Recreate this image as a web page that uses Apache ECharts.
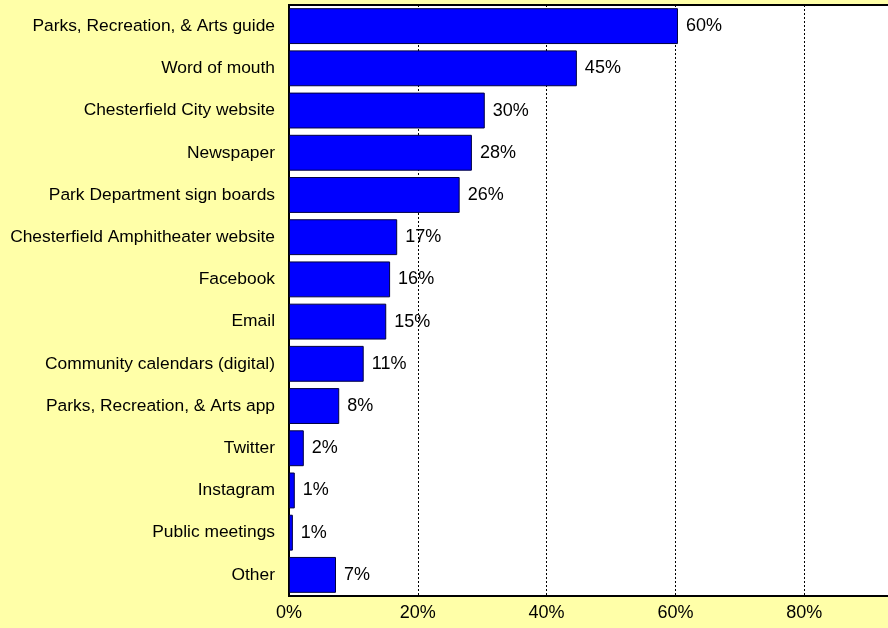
<!DOCTYPE html>
<html>
<head>
<meta charset="utf-8">
<script src="https://cdn.jsdelivr.net/npm/echarts@6/dist/echarts.min.js"></script>
<style>
html, body { margin: 0; padding: 0; background: #FFFFA8; }
#chart { width: 888px; height: 628px; }
</style>
</head>
<body>
<div id="chart"></div>
<script type="text/javascript">
// categories top to bottom, as in the picture
var categories = [
    'Parks, Recreation, & Arts guide',
    'Word of mouth',
    'Chesterfield City website',
    'Newspaper',
    'Park Department sign boards',
    'Chesterfield Amphitheater website',
    'Facebook',
    'Email',
    'Community calendars (digital)',
    'Parks, Recreation, & Arts app',
    'Twitter',
    'Instagram',
    'Public meetings',
    'Other'
];
var values = [60.4, 44.7, 30.4, 28.4, 26.5, 16.8, 15.7, 15.1, 11.6, 7.8, 2.3, 0.9, 0.6, 7.3];
var valueLabels = ['60%', '45%', '30%', '28%', '26%', '17%', '16%', '15%', '11%', '8%', '2%', '1%', '1%', '7%'];
var tickValues = [0, 20, 40, 60, 80];

var font = 'Liberation Sans, Arial, sans-serif';

var option = {
    backgroundColor: '#FFFFA8',
    animation: false,
    grid: {
        left: 289,
        width: 644,
        top: 5,
        bottom: 32,
        outerBoundsMode: 'none',
        show: true,
        backgroundColor: '#ffffff',
        borderColor: '#000000',
        borderWidth: 2
    },
    xAxis: {
        type: 'value',
        min: 0,
        max: 100,
        interval: 20,
        axisLine: { show: true, lineStyle: { color: '#000000', width: 1 } },
        axisTick: { show: false },
        splitLine: { show: true, lineStyle: { color: '#000000', type: [2, 2], width: 1 } },
        axisLabel: {
            color: '#000000',
            fontFamily: font,
            fontSize: 18,
            margin: 8,
            formatter: function (v) {
                return tickValues.indexOf(v) >= 0 ? v + '%' : '';
            }
        }
    },
    yAxis: {
        type: 'category',
        inverse: true,
        data: categories,
        axisLine: { show: true, lineStyle: { color: '#000000', width: 1 } },
        axisTick: { show: false },
        axisLabel: {
            color: '#000000',
            fontFamily: font,
            fontSize: 17.4,
            margin: 14
        }
    },
    series: [{
        type: 'bar',
        data: values,
        barCategoryGap: '15%',
        itemStyle: {
            color: '#0000FF',
            borderColor: '#000040',
            borderWidth: 1
        },
        label: {
            show: true,
            position: 'right',
            distance: 8,
            color: '#000000',
            fontFamily: font,
            fontSize: 18,
            formatter: function (p) { return valueLabels[p.dataIndex]; }
        }
    }]
};

var charts = echarts.init(document.getElementById('chart'));
charts.setOption(option);
</script>
</body>
</html>
